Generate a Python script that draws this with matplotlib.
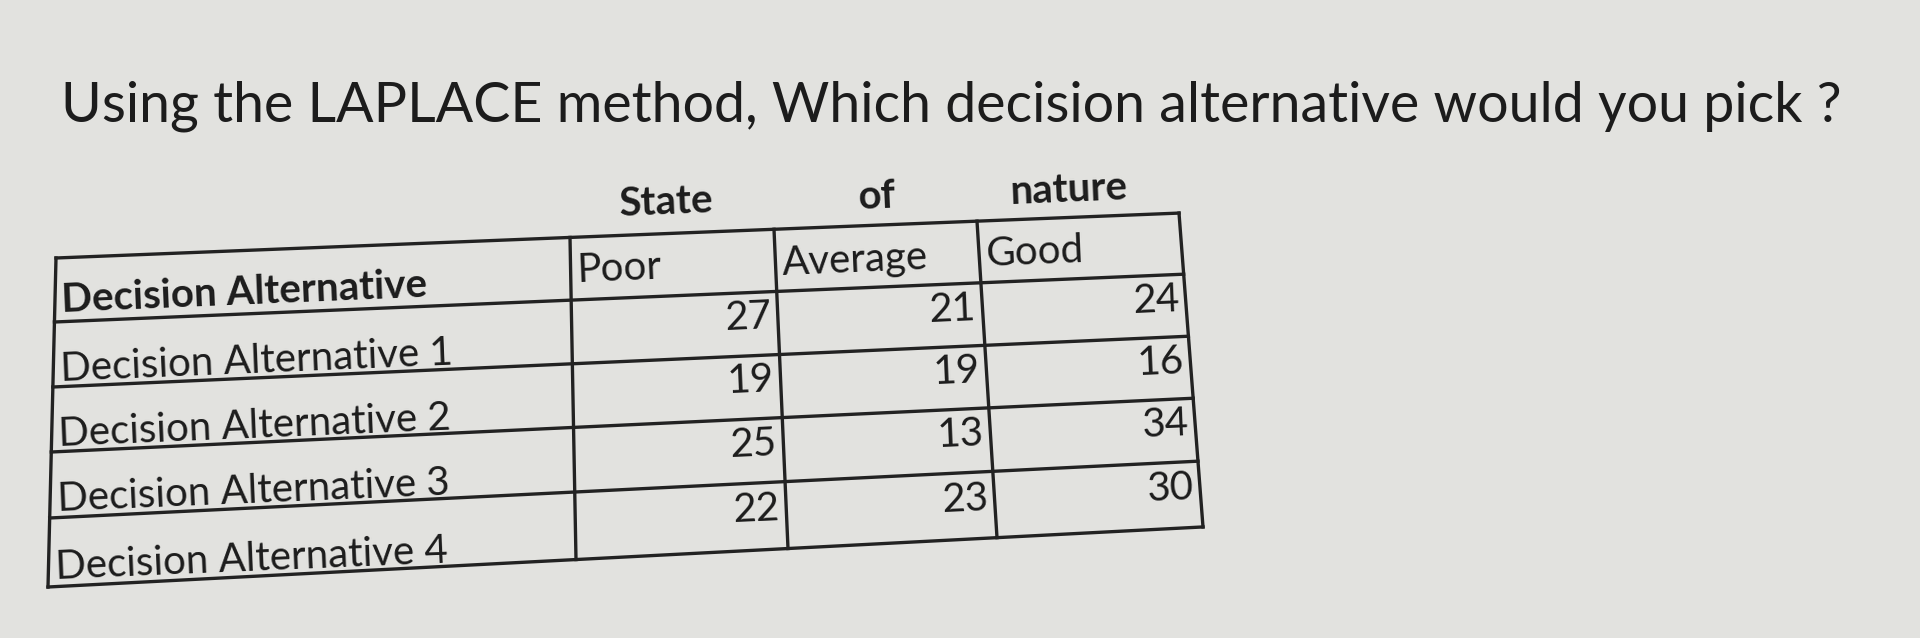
import matplotlib
matplotlib.use("Agg")
import matplotlib.pyplot as plt

title = "Using the LAPLACE method, Which decision alternative would you pick ?"
super_header = ["State", "of", "nature"]
columns = ["Poor", "Average", "Good"]
row_header = "Decision Alternative"
rows = ["Decision Alternative 1", "Decision Alternative 2", "Decision Alternative 3", "Decision Alternative 4"]
poor = [27, 19, 25, 22]
average = [21, 19, 13, 23]
good = [24, 16, 34, 30]

fig = plt.figure(figsize=(19.2, 6.38), dpi=100)
bg = "#e2e2df"
fig.patch.set_facecolor(bg)
ax = fig.add_axes([0, 0, 1, 1])
ax.set_xlim(0, 1920); ax.set_ylim(638, 0); ax.axis("off")

fam = ["Lato", "DejaVu Sans"]
ink = "#1c1c1c"
ax.text(61, 122, title, fontsize=40, family=fam, color=ink, va="baseline")

# table grid geometry (perspective of the photo)
x_top = [56, 570, 774, 977, 1179]
x_bot = [48, 576, 788, 997, 1203]
y_left = [258, 322, 387, 452, 518, 587]
s_top, s_bot = 0.040, 0.052

def grid(i, j):
    fr = (y_left[i] - y_left[0]) / (y_left[-1] - y_left[0])
    x = x_top[j] + (x_bot[j] - x_top[j]) * fr
    xl = x_top[0] + (x_bot[0] - x_top[0]) * fr
    s = s_top + (s_bot - s_top) * fr
    return x, y_left[i] - s * (x - xl)

def cell_pt(i, j, u, v):
    # point inside cell row i, col j; u across (0..1), v down (0..1)
    p00 = grid(i, j); p01 = grid(i, j + 1)
    p10 = grid(i + 1, j); p11 = grid(i + 1, j + 1)
    x = (1-u)*(1-v)*p00[0] + u*(1-v)*p01[0] + (1-u)*v*p10[0] + u*v*p11[0]
    y = (1-u)*(1-v)*p00[1] + u*(1-v)*p01[1] + (1-u)*v*p10[1] + u*v*p11[1]
    return x, y

lw, lc = 2.4, "#222"
nr, nc = len(y_left), len(x_top)
for i in range(nr):
    pts = [grid(i, j) for j in range(nc)]
    ax.plot([p[0] for p in pts], [p[1] for p in pts], color=lc, lw=lw, solid_capstyle="projecting")
for j in range(nc):
    pts = [grid(i, j) for i in range(nr)]
    ax.plot([p[0] for p in pts], [p[1] for p in pts], color=lc, lw=lw, solid_capstyle="projecting")

ROT = 2.4
# super header
for t, x, y in zip(super_header, [618, 857, 1009], [203, 197, 190]):
    ax.text(x, y, t, fontsize=29, weight="bold", family=fam, color=ink, ha="left", va="center", rotation=ROT)

fs = 29
x, y = cell_pt(0, 0, 0, 0.55)
ax.text(x + 6, y, row_header, fontsize=fs, weight="bold", family=fam, color=ink, va="center", rotation=ROT)
for j, t in enumerate(columns):
    x, y = cell_pt(0, j + 1, 0, 0.5)
    ax.text(x + 6, y, t, fontsize=fs, family=fam, color=ink, va="center", rotation=ROT)

for i, r in enumerate(rows):
    x, y = cell_pt(i + 1, 0, 0, 0.6)
    ax.text(x + 6, y, r, fontsize=fs, family=fam, color=ink, va="center", rotation=ROT)
    for j, v in enumerate([poor[i], average[i], good[i]]):
        x, y = cell_pt(i + 1, j + 1, 1, 0.42)
        ax.text(x - 6, y, str(v), fontsize=fs, family=fam, color=ink, ha="right", va="center", rotation=ROT)

fig.savefig("out.png", dpi=100, facecolor=bg)
